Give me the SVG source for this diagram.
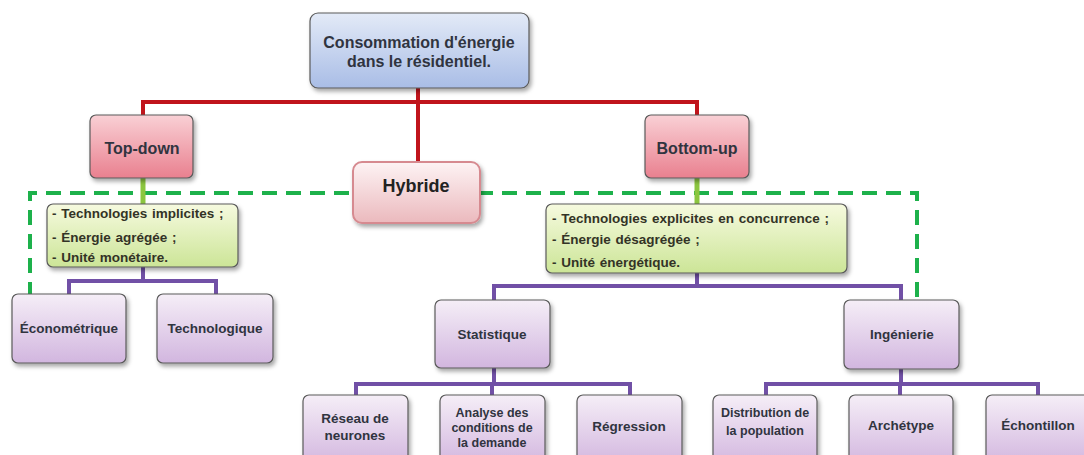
<svg xmlns="http://www.w3.org/2000/svg" width="1084" height="455" viewBox="0 0 1084 455">
<defs>
<linearGradient id="gBlue" x1="0" y1="0" x2="0" y2="1"><stop offset="0" stop-color="#e3eaf7"/><stop offset="1" stop-color="#a9bde6"/></linearGradient>
<linearGradient id="gPink" x1="0" y1="0" x2="0" y2="1"><stop offset="0" stop-color="#f9d0d5"/><stop offset="1" stop-color="#e9808f"/></linearGradient>
<linearGradient id="gHyb" x1="0" y1="0" x2="0" y2="1"><stop offset="0" stop-color="#fdf3f4"/><stop offset="1" stop-color="#ebb9bd"/></linearGradient>
<linearGradient id="gGreen" x1="0" y1="0" x2="0" y2="1"><stop offset="0" stop-color="#f6fadf"/><stop offset="1" stop-color="#cce597"/></linearGradient>
<linearGradient id="gPurple" x1="0" y1="0" x2="0" y2="1"><stop offset="0" stop-color="#f5eef7"/><stop offset="1" stop-color="#d2b6df"/></linearGradient>
<filter id="sh" x="-10%" y="-10%" width="125%" height="130%"><feDropShadow dx="2" dy="3" stdDeviation="2" flood-color="#000" flood-opacity="0.35"/></filter>
</defs>
<style>
.box{stroke:#5a5a5a;stroke-width:1.2;filter:url(#sh)}
.t{font-family:"Liberation Sans",Arial,sans-serif;font-weight:bold;font-size:13.5px;fill:#30343f;text-anchor:middle}
.big{font-size:16px}
.hy{font-size:18px;fill:#222}
.sm{font-size:12.5px}
.l{font-family:"Liberation Sans",Arial,sans-serif;font-weight:bold;font-size:13.5px;fill:#333326;word-spacing:1px}
.red{stroke:#c0141c;stroke-width:4;fill:none}
.pur{stroke:#7150a6;stroke-width:4;fill:none}
.grn{stroke:#8cc63f;stroke-width:5;fill:none}
.dash{stroke:#1db14b;stroke-width:4;fill:none;stroke-dasharray:15 9}
</style>
<g id="connectors">
<path class="dash" d="M30,297 V193 H917 V297"/>
<path class="red" d="M143,115 V102 H697 V115"/>
<path class="red" d="M418,88 V162"/>
<path class="grn" d="M143,178 V204"/>
<path class="grn" d="M697,178 V204"/>
<path class="pur" d="M143,267 V281 M69,294 V281 H216 V294"/>
<path class="pur" d="M697,273 V286 M494,300 V286 H901 V300"/>
<path class="pur" d="M494,368 V384 M356,395 V384 H630 V395 M492,384 V395"/>
<path class="pur" d="M901,369 V384 M766,395 V384 H1038 V395 M900,384 V395"/>
</g>
<g id="root"><rect class="box" x="310" y="13" width="219" height="75" rx="8" fill="url(#gBlue)"/><text class="t big" x="419" y="48">Consommation d'énergie</text><text class="t big" x="419" y="67">dans le résidentiel.</text></g>
<g id="topdown"><rect class="box" x="90" y="115" width="103" height="63" rx="6" fill="url(#gPink)"/><text class="t big" x="142" y="154">Top-down</text></g>
<g id="bottomup"><rect class="box" x="645" y="115" width="104" height="63" rx="6" fill="url(#gPink)"/><text class="t big" x="697" y="154">Bottom-up</text></g>
<g id="hybride"><rect x="353" y="162" width="127" height="61" rx="9" fill="url(#gHyb)" stroke="#d68a90" stroke-width="2" filter="url(#sh)"/><text class="t hy" x="416" y="192">Hybride</text></g>
<g id="td-props"><rect class="box" x="47" y="204" width="191" height="63" rx="6" fill="url(#gGreen)"/><text class="l" x="52" y="218">- Technologies implicites ;</text><text class="l" x="52" y="242">- Énergie agrégée ;</text><text class="l" x="52" y="262">- Unité monétaire.</text></g>
<g id="bu-props"><rect class="box" x="546" y="204" width="301" height="69" rx="6" fill="url(#gGreen)"/><text class="l" x="552" y="223">- Technologies explicites en concurrence ;</text><text class="l" x="552" y="244">- Énergie désagrégée ;</text><text class="l" x="552" y="267">- Unité énergétique.</text></g>
<g id="econometrique"><rect class="box" x="12" y="294" width="114" height="69" rx="6" fill="url(#gPurple)"/><text class="t" x="69" y="333">Économétrique</text></g>
<g id="technologique"><rect class="box" x="157" y="294" width="116" height="69" rx="6" fill="url(#gPurple)"/><text class="t" x="215" y="333">Technologique</text></g>
<g id="statistique"><rect class="box" x="435" y="300" width="115" height="68" rx="6" fill="url(#gPurple)"/><text class="t" x="492" y="339">Statistique</text></g>
<g id="ingenierie"><rect class="box" x="844" y="300" width="115" height="69" rx="6" fill="url(#gPurple)"/><text class="t" x="902" y="339">Ingénierie</text></g>
<g id="reseau"><rect class="box" x="303" y="395" width="105" height="70" rx="6" fill="url(#gPurple)"/><text class="t" x="355" y="423">Réseau de</text><text class="t" x="355" y="440">neurones</text></g>
<g id="analyse"><rect class="box" x="440" y="395" width="105" height="70" rx="6" fill="url(#gPurple)"/><text class="t sm" x="492" y="417">Analyse des</text><text class="t sm" x="492" y="432">conditions de</text><text class="t sm" x="492" y="447">la demande</text></g>
<g id="regression"><rect class="box" x="577" y="395" width="105" height="70" rx="6" fill="url(#gPurple)"/><text class="t" x="629" y="431">Régression</text></g>
<g id="distribution"><rect class="box" x="713" y="395" width="104" height="70" rx="6" fill="url(#gPurple)"/><text class="t sm" x="765" y="417">Distribution de</text><text class="t sm" x="765" y="435">la population</text></g>
<g id="archetype"><rect class="box" x="849" y="395" width="104" height="70" rx="6" fill="url(#gPurple)"/><text class="t" x="901" y="430">Archétype</text></g>
<g id="echantillon"><rect class="box" x="986" y="395" width="104" height="70" rx="6" fill="url(#gPurple)"/><text class="t" x="1038" y="430">Échontillon</text></g>
</svg>
